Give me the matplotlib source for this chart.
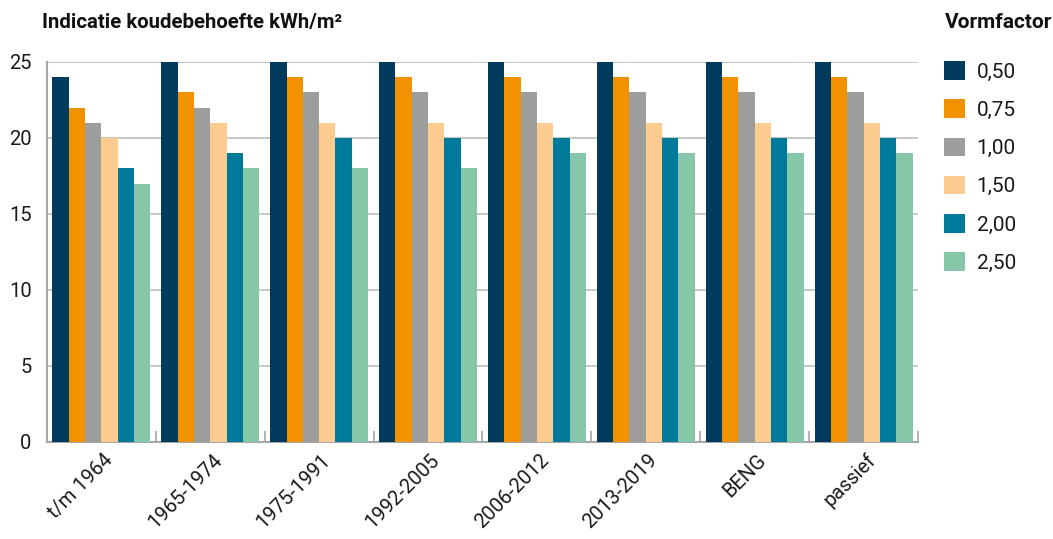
import numpy as np
import matplotlib.pyplot as plt
from matplotlib.patches import Patch
from matplotlib.transforms import ScaledTranslation

plt.rcParams['font.family'] = ['Roboto', 'DejaVu Sans']

perioden = ['t/m 1964', '1965-1974', '1975-1991', '1992-2005',
            '2006-2012', '2013-2019', 'BENG', 'passief']
vormfactoren = ['0,50', '0,75', '1,00', '1,50', '2,00', '2,50']
kleuren = ['#003a5c', '#f39200', '#9d9d9c', '#fbcb8f', '#007a9b', '#85c7a8']

# koudebehoefte per vormfactor (kWh/m2), per periode
v050 = [24, 25, 25, 25, 25, 25, 25, 25]
v075 = [22, 23, 24, 24, 24, 24, 24, 24]
v100 = [21, 22, 23, 23, 23, 23, 23, 23]
v150 = [20, 21, 21, 21, 21, 21, 21, 21]
v200 = [18, 19, 20, 20, 20, 20, 20, 20]
v250 = [17, 18, 18, 18, 19, 19, 19, 19]
reeksen = [v050, v075, v100, v150, v200, v250]

fig = plt.figure(figsize=(10.53, 5.39), dpi=100)
ax = fig.add_axes([0.0446, 0.18, 0.8272, 0.705])

x = np.arange(len(perioden))
breedte = 0.15
for i, (waarden, kleur) in enumerate(zip(reeksen, kleuren)):
    ax.bar(x + (i - 2.5) * breedte, waarden, breedte, color=kleur,
           label=vormfactoren[i], zorder=3)

ax.set_xlim(-0.5, len(perioden) - 0.5)
ax.set_ylim(0, 25)
ax.set_yticks([0, 5, 10, 15, 20, 25])
ax.yaxis.grid(True, color='#bdbdbd', linewidth=1.2, zorder=0)
ax.tick_params(axis='y', length=0, pad=11, labelsize=14.5, labelcolor='#1a1a1a')

# scheidingsstreepjes tussen de perioden
ax.set_xticks(np.arange(len(perioden) + 1) - 0.5, minor=True)
ax.tick_params(axis='x', which='minor', direction='in', length=8,
               color='#a6a6a6', width=1.2)
ax.set_xticks(x)
ax.set_xticklabels(perioden, rotation=45, ha='right', rotation_mode='anchor',
                   fontsize=14.5, color='#1a1a1a')
ax.tick_params(axis='x', which='major', length=0, pad=6)
for lbl in ax.get_xticklabels():
    lbl.set_transform(lbl.get_transform() + ScaledTranslation(0.02, 0, fig.dpi_scale_trans))

for kant in ['top', 'right']:
    ax.spines[kant].set_visible(False)
for kant in ['left', 'bottom']:
    ax.spines[kant].set_color('#a6a6a6')
    ax.spines[kant].set_linewidth(1.5)

fig.text(0.04, 0.958, 'Indicatie koudebehoefte kWh/m²', fontsize=14.7,
         fontweight='bold', va='center', ha='left', color='#111111')
fig.text(0.897, 0.958, 'Vormfactor', fontsize=15, fontweight='bold',
         va='center', ha='left', color='#111111')

handles = [Patch(facecolor=k, edgecolor='none') for k in kleuren]
leg = fig.legend(handles, vormfactoren, loc='upper left',
                 bbox_to_anchor=(0.879, 0.921), frameon=False, fontsize=15,
                 handlelength=1.0, handleheight=1.0, labelspacing=0.85,
                 handletextpad=0.55)
for t in leg.get_texts():
    t.set_color('#1a1a1a')

fig.savefig('out.png', dpi=100)
